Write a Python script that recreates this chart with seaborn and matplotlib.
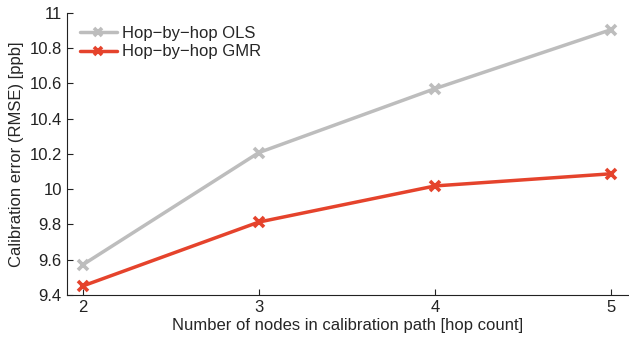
import matplotlib
matplotlib.use("Agg")
import matplotlib.pyplot as plt
import seaborn as sns
import pandas as pd

hops = [2, 3, 4, 5]
ols_rmse = [9.57, 10.207, 10.57, 10.905]
gmr_rmse = [9.45, 9.813, 10.018, 10.087]
series_names = ["Hop\u2212by\u2212hop OLS", "Hop\u2212by\u2212hop GMR"]
palette = ["#bdbdbd", "#e5432c"]

sns.set_theme(style="ticks")
plt.rcParams["font.family"] = ["Liberation Sans", "DejaVu Sans"]

df = pd.DataFrame({
    "hops": hops * 2,
    "rmse": ols_rmse + gmr_rmse,
    "method": [series_names[0]] * len(hops) + [series_names[1]] * len(hops),
})

fig = plt.figure(figsize=(6.29, 3.37), dpi=100)
ax = fig.add_axes([0.106, 0.125, 0.894, 0.837])

sns.lineplot(data=df, x="hops", y="rmse", hue="method", palette=palette,
             marker="x", markersize=7, markeredgewidth=2.6, linewidth=2.5,
             ax=ax, legend=True)

# cross markers take the colour of their own line
for line in ax.lines:
    line.set_markeredgecolor(line.get_color())

ax.set_xlim(1.91, 5.1)
ax.set_ylim(9.4, 11)
ax.set_xticks(hops)
ax.set_yticks([9.4, 9.6, 9.8, 10, 10.2, 10.4, 10.6, 10.8, 11])
ax.set_yticklabels(["9.4", "9.6", "9.8", "10", "10.2", "10.4", "10.6", "10.8", "11"])
ax.tick_params(direction="in", length=4, width=0.8, labelsize=12, colors="#222222")
ax.set_xlabel("Number of nodes in calibration path [hop count]", fontsize=12, labelpad=2)
ax.set_ylabel("Calibration error (RMSE) [ppb]", fontsize=12, labelpad=4)
for s in ["top", "right"]:
    ax.spines[s].set_visible(False)
for s in ["left", "bottom"]:
    ax.spines[s].set_color("#222222")
    ax.spines[s].set_linewidth(0.8)

leg = ax.legend(loc="upper left", frameon=False, fontsize=12,
                handlelength=2.2, handletextpad=0.3, borderaxespad=0.4,
                labelspacing=0.2)
for h in leg.get_lines():
    h.set_markeredgecolor(h.get_color())
    h.set_markersize(6)

fig.savefig("out.png", dpi=100)
